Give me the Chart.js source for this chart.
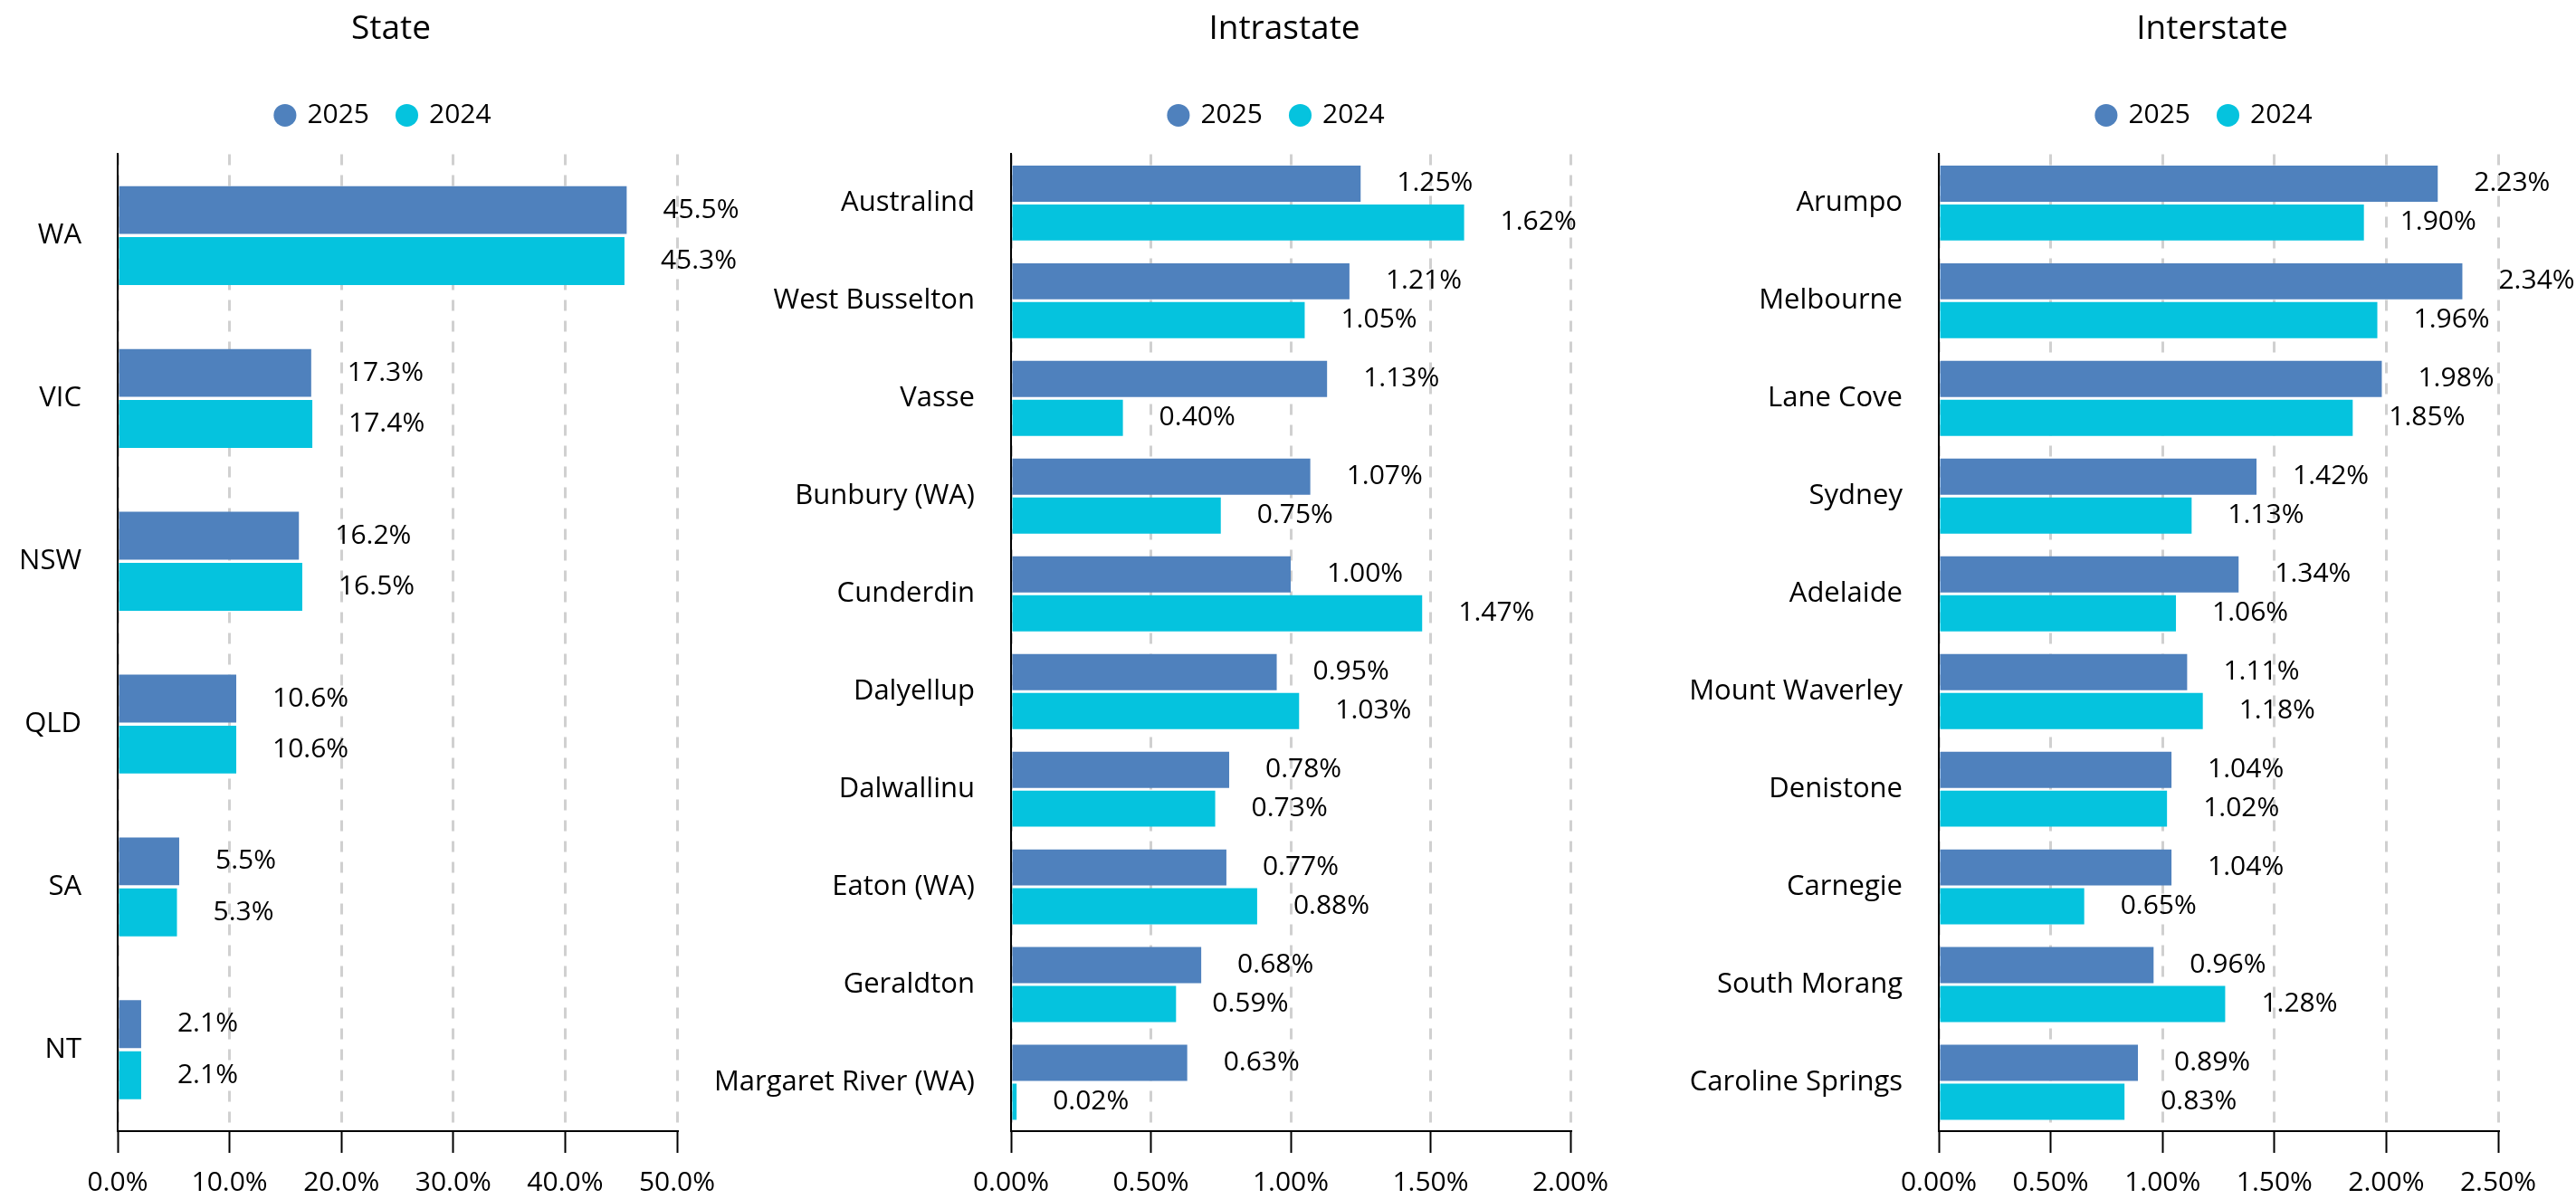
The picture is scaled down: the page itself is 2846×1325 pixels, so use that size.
<!DOCTYPE html>
<html>
<head>
<meta charset="utf-8">
<title>State / Intrastate / Interstate</title>
<script src="https://cdn.jsdelivr.net/npm/chart.js@4.4.1/dist/chart.umd.min.js"></script>
<style>
  html, body { margin: 0; padding: 0; background: #ffffff; }
  body { width: 2846px; height: 1325px; position: relative; overflow: hidden; }
  .chart-box { position: absolute; top: 0; height: 1340px; }
</style>
</head>
<body>
<div class="chart-box" style="left: 0px; width: 950px;"><canvas id="stateChart" width="950" height="1340"></canvas></div>
<div class="chart-box" style="left: 760px; width: 1140px;"><canvas id="intrastateChart" width="1140" height="1340"></canvas></div>
<div class="chart-box" style="left: 1840px; width: 1006px;"><canvas id="interstateChart" width="1006" height="1340"></canvas></div>

<script>
const seriesLabels = ["2025", "2024"];
const seriesColors = ["#4f81bd", "#05c3de"];

const stateCategories = ["WA", "VIC", "NSW", "QLD", "SA", "NT"];
const state2025 = [45.5, 17.3, 16.2, 10.6, 5.5, 2.1];
const state2024 = [45.3, 17.4, 16.5, 10.6, 5.3, 2.1];
const stateTicks = [0, 10, 20, 30, 40, 50];

const intraCategories = [
  "Australind", "West Busselton", "Vasse", "Bunbury (WA)", "Cunderdin",
  "Dalyellup", "Dalwallinu", "Eaton (WA)", "Geraldton", "Margaret River (WA)",
];
const intra2025 = [1.25, 1.21, 1.13, 1.07, 1.0, 0.95, 0.78, 0.77, 0.68, 0.63];
const intra2024 = [1.62, 1.05, 0.4, 0.75, 1.47, 1.03, 0.73, 0.88, 0.59, 0.02];
const intraTicks = [0, 0.5, 1, 1.5, 2];

const interCategories = [
  "Arumpo", "Melbourne", "Lane Cove", "Sydney", "Adelaide",
  "Mount Waverley", "Denistone", "Carnegie", "South Morang", "Caroline Springs",
];
const inter2025 = [2.23, 2.34, 1.98, 1.42, 1.34, 1.11, 1.04, 1.04, 0.96, 0.89];
const inter2024 = [1.9, 1.96, 1.85, 1.13, 1.06, 1.18, 1.02, 0.65, 1.28, 0.83];
const interTicks = [0, 0.5, 1, 1.5, 2, 2.5];

Chart.defaults.font.family = "'Open Sans', 'Noto Sans', sans-serif";
Chart.defaults.color = "#000";

// extra room between the legend and the plot
const legendGap = {
  id: "legendGap",
  beforeInit(chart) {
    const fit = chart.legend.fit;
    chart.legend.fit = function () {
      fit.call(this);
      this.height += 18;
    };
  },
  afterLayout(chart) {
    // legend and title sit a little left of the plot centre
    chart.legend.left -= 15;
    chart.legend.right -= 15;
    chart.titleBlock.left -= 7;
    chart.titleBlock.right -= 7;
  },
};

function valueLabels(decimals) {
  return {
    id: "valueLabels",
    afterDatasetsDraw(chart) {
      const ctx = chart.ctx;
      ctx.save();
      ctx.font = "30px 'Open Sans', 'Noto Sans', sans-serif";
      ctx.fillStyle = "#000";
      ctx.textAlign = "left";
      ctx.textBaseline = "middle";
      chart.data.datasets.forEach((ds, i) => {
        chart.getDatasetMeta(i).data.forEach((bar, j) => {
          ctx.fillText(ds.data[j].toFixed(decimals) + "%", bar.x + 40, bar.y);
        });
      });
      ctx.restore();
    },
  };
}

function makeChart(canvasId, title, categories, values2025, values2024, ticks, decimals, geo) {
  const ctx = document.getElementById(canvasId).getContext("2d");
  const values = [values2025, values2024];
  return new Chart(ctx, {
    type: "bar",
    data: {
      labels: categories,
      datasets: values.map((v, i) => ({
        label: seriesLabels[i],
        data: v,
        backgroundColor: seriesColors[i],
        borderWidth: 0,
        categoryPercentage: geo.cat,
        barPercentage: geo.bar,
      })),
    },
    options: {
      indexAxis: "y",
      responsive: false,
      animation: false,
      layout: { padding: { top: 0, left: 0, right: geo.right, bottom: 0 } },
      scales: {
        x: {
          min: ticks[0],
          max: ticks[ticks.length - 1],
          ticks: {
            stepSize: ticks[1] - ticks[0],
            padding: 15,
            color: "#000",
            font: { size: 30 },
            callback: (v) => Number(v).toFixed(decimals) + "%",
          },
          grid: {
            color: "#d0d0d0",
            lineWidth: 3,
            tickColor: "#000",
            tickWidth: 2,
            tickLength: 24,
          },
          border: { display: true, color: "#000", width: 2, dash: [12, 11] },
        },
        y: {
          ticks: { padding: 40, color: "#000", font: { size: 31 } },
          grid: { display: false, drawTicks: false },
          border: { display: true, color: "#000", width: 2 },
          afterFit: (scale) => {
            scale.width = geo.yWidth;
          },
        },
      },
      plugins: {
        title: {
          display: true,
          text: title,
          fullSize: false,
          color: "#000",
          font: { size: 37, weight: "normal" },
          padding: { top: 10, bottom: 26 },
        },
        legend: {
          fullSize: false,
          labels: {
            usePointStyle: true,
            pointStyle: "circle",
            boxWidth: 19,
            boxHeight: 17.7,
            padding: 32,
            color: "#000",
            font: { size: 30 },
          },
        },
        tooltip: { enabled: false },
      },
    },
    plugins: [legendGap, valueLabels(decimals)],
  });
}

makeChart("stateChart", "State", stateCategories, state2025, state2024, stateTicks, 1,
  { yWidth: 130, right: 202, cat: 0.627, bar: 0.938 });
makeChart("intrastateChart", "Intrastate", intraCategories, intra2025, intra2024, intraTicks, 2,
  { yWidth: 357, right: 165, cat: 0.796, bar: 0.93 });
makeChart("interstateChart", "Interstate", interCategories, inter2025, inter2024, interTicks, 2,
  { yWidth: 302, right: 86, cat: 0.796, bar: 0.93 });
</script>
</body>
</html>
